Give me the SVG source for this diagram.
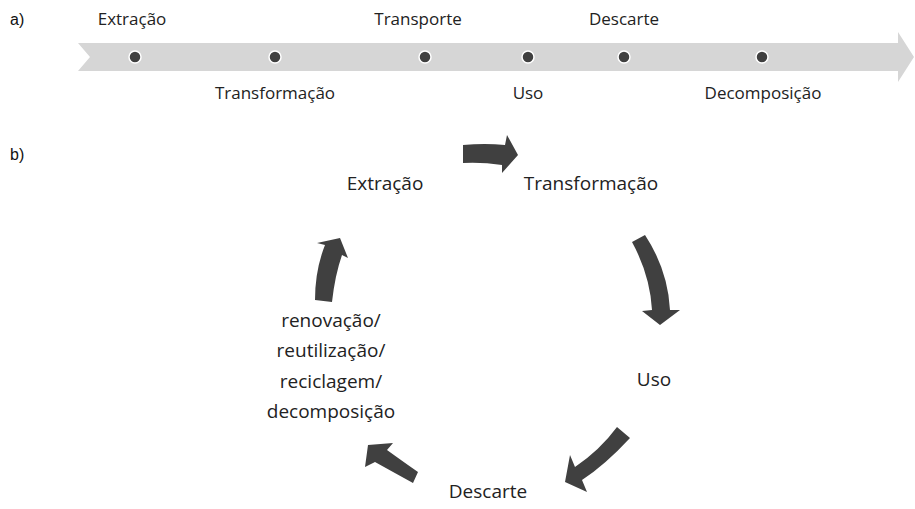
<svg xmlns="http://www.w3.org/2000/svg" width="915" height="509" viewBox="0 0 915 509">
<style>
.lbl{font-family:"Open Sans","Noto Sans","DejaVu Sans",sans-serif;fill:#222;text-anchor:middle}
.a{font-size:17px}
.b{font-size:19px}
.tag{font-family:"Liberation Sans",Arial,sans-serif;font-size:16px;fill:#111}
.dot{fill:#404040;stroke:#fff;stroke-width:1.5}
.arr{fill:#404040}
</style>
<rect width="915" height="509" fill="#fff"/>
<text class="tag" x="10" y="25">a)</text>
<text class="tag" x="10" y="160">b)</text>
<g id="timeline">
<path d="M78,43 L898,43 L898,32 L914,57 L898,82 L898,71 L78,71 L90,57 Z" fill="#d6d6d6"/>
</g>
<g id="t-extracao"><circle class="dot" cx="135" cy="57" r="6"/><text class="lbl a" x="132" y="25">Extração</text></g>
<g id="t-transformacao"><circle class="dot" cx="275" cy="57" r="6"/><text class="lbl a" x="275" y="99">Transformação</text></g>
<g id="t-transporte"><circle class="dot" cx="425" cy="57" r="6"/><text class="lbl a" x="418" y="25">Transporte</text></g>
<g id="t-uso"><circle class="dot" cx="528" cy="57" r="6"/><text class="lbl a" x="528" y="99">Uso</text></g>
<g id="t-descarte"><circle class="dot" cx="624" cy="57" r="6"/><text class="lbl a" x="624" y="25">Descarte</text></g>
<g id="t-decomposicao"><circle class="dot" cx="762" cy="57" r="6"/><text class="lbl a" x="763" y="99">Decomposição</text></g>
<g id="c-extracao"><text class="lbl b" x="385" y="190">Extração</text></g>
<g id="c-transformacao"><text class="lbl b" x="591" y="190">Transformação</text></g>
<g id="c-uso"><text class="lbl b" x="654" y="386">Uso</text></g>
<g id="c-descarte"><text class="lbl b" x="488" y="498">Descarte</text></g>
<g id="c-renovacao"><text class="lbl b" x="331" y="327">renovação/</text><text class="lbl b" x="331" y="357">reutilização/</text><text class="lbl b" x="331" y="388">reciclagem/</text><text class="lbl b" x="331" y="418">decomposição</text></g>
<g id="connectors">
<path class="arr" d="M463,145 Q485,143 505,145 L507,135 L518,155 L502,173 L502,165 Q482,162 463,163 Z"/>
<path class="arr" d="M632,242 L645,235 Q668,270 670,310 L680,310 L660,325 L642,311 L652,310 Q650,275 632,242 Z"/>
<path class="arr" d="M617,427 L630,438 Q605,465 582,480 L587,492 L565,482 L570,455 L575,467 Q600,450 617,427 Z"/>
<path class="arr" d="M418,472 L413,483 Q393,472 375,462 L365,467 L368,445 L393,443 L387,450 Q405,463 418,472 Z"/>
<path class="arr" d="M315,300 L332,302 Q335,275 342,255 L348,258 L340,238 L317,243 L325,245 Q315,270 315,300 Z"/>
</g>
</svg>
